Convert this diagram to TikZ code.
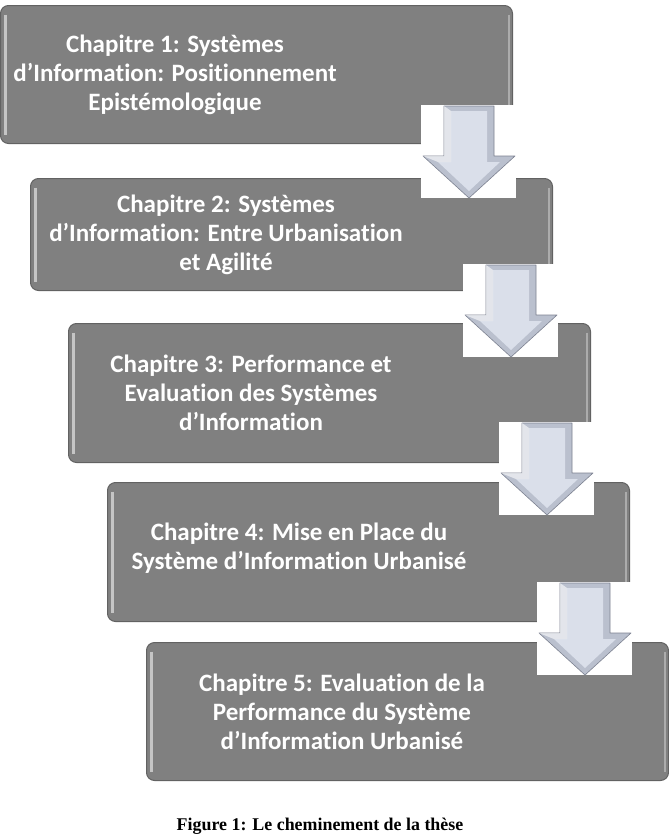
\documentclass[tikz,border=0pt]{standalone}
\usepackage{fontspec}
\setmainfont{Liberation Serif}
\newfontfamily\chapfont[Ligatures=NoCommon]{Carlito}
\usetikzlibrary{positioning,calc}
\definecolor{boxGray}   {RGB}{128,128,128}
\definecolor{edgeGray}  {RGB}{ 98, 98, 98}
\definecolor{arrowFace} {RGB}{218,223,234}
\definecolor{arrowBevel}{RGB}{186,192,206}
\definecolor{arrowEdge} {RGB}{125,130,145}

\begin{document}
\begin{tikzpicture}[x=1pt,y=-1pt,
        chbox/.style={rounded corners=8pt, fill=boxGray,
                      draw=edgeGray, line width=1pt,
                      minimum width=522pt, inner sep=0pt,
                      anchor=north west,
                      path picture={
                        \draw[white, opacity=.55, line width=2.5pt]
                          ([xshift=5pt,yshift=-9pt]path picture bounding box.north west) --
                          ([xshift=5pt,yshift=9pt]path picture bounding box.south west);
                        \draw[white, opacity=.35, line width=2pt]
                          ([xshift=-4pt,yshift=-9pt]path picture bounding box.north east) --
                          ([xshift=-4pt,yshift=9pt]path picture bounding box.south east);}},
        chtext/.style={text=white, align=center, inner sep=0pt,
                       font=\chapfont\bfseries\fontsize{25}{29}\selectfont},
        blockarr/.style={fill=arrowBevel, draw=arrowEdge, line width=.6pt,
                         line join=round},
        caption/.style={font=\bfseries\fontsize{17.9}{20}\selectfont,
                        anchor=base}]
        \useasboundingbox (0,0) rectangle (669,835);
        % chapter boxes
        \node[chbox, minimum width=512pt,
              minimum height=138pt] (b1) at (0,5) {};
        \node[chbox, minimum height=112pt]
          (b2) at ([xshift=30pt,yshift=-34pt]b1.south west) {};
        \node[chbox, minimum height=139pt]
          (b3) at ([xshift=38pt,yshift=-32pt]b2.south west) {};
        \node[chbox, minimum height=139pt]
          (b4) at ([xshift=39pt,yshift=-19pt]b3.south west) {};
        \node[chbox, minimum height=138pt]
          (b5) at ([xshift=39pt,yshift=-20pt]b4.south west) {};
        \node[chtext] (t1) at ([xshift=175pt]b1.west)
          {Chapitre 1: Systèmes\\d’Information: Positionnement\\Epistémologique};
        \node[chtext] (t2) at ([xshift=196pt]b2.west)
          {Chapitre 2: Systèmes\\d’Information: Entre Urbanisation\\et Agilité};
        \node[chtext] (t3) at ([xshift=183pt]b3.west)
          {Chapitre 3: Performance et\\Evaluation des Systèmes\\d’Information};
        \node[chtext] (t4) at ([xshift=192pt,yshift=4pt]b4.west)
          {Chapitre 4: Mise en Place du\\Système d’Information Urbanisé};
        \node[chtext] (t5) at ([xshift=196pt]b5.west)
          {Chapitre 5: Evaluation de la\\Performance du Système\\d’Information Urbanisé};
        % block arrows between the boxes
        \foreach \bx/\dx/\dy in {b1/-44/-38, b2/-42/-26, b3/-44/-40, b4/-45/-39}{
          \coordinate (top) at ($(\bx.south east)+(\dx,\dy)$);
          \begin{scope}[shift={(top)}]
            \fill[white] (-48,-1) rectangle (47,92);
            \draw[blockarr] (-25,0) -- (25,0) -- (25,50) -- (46,50)
              -- (0,92) -- (-46,50) -- (-25,50) -- cycle;
            \fill[arrowFace] (-18,5) -- (18,5) -- (18,56) -- (31,56)
              -- (0,85) -- (-31,56) -- (-18,56) -- cycle;
            \fill[white, opacity=.6] (-25,0) -- (-18,5) -- (-18,56)
              -- (-31,56) -- (-46,50) -- (-25,50) -- cycle;
          \end{scope}
        }
        \node[caption] (cap) at (320,830)
          {Figure 1: Le cheminement de la thèse};
      \end{tikzpicture}
\end{document}
